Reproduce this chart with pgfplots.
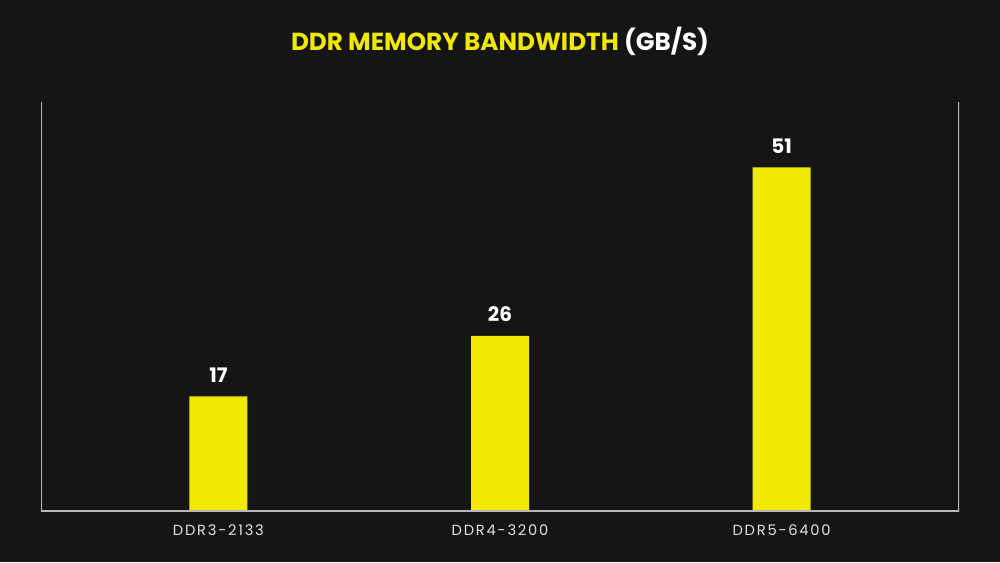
\documentclass[border=0pt]{standalone}
\usepackage{pgfplots}
\pgfplotsset{compat=1.18}
\usepackage{fontspec}
\setmainfont{Poppins}

\definecolor{bg}{RGB}{21,21,21}
\definecolor{ddryellow}{RGB}{240,232,0}
\definecolor{axisgray}{RGB}{185,185,185}
\definecolor{ticktext}{RGB}{225,225,225}

\pgfplotstableread{
x label value
0 DDR3-2133 17
1 DDR4-3200 26
2 DDR5-6400 51
}\bandwidth

\begin{document}
\begin{tikzpicture}[x=0.75pt,y=0.75pt]
% background, 1000 x 562 px
\fill[bg] (0,0) rectangle (1000,562);
\node[font=\fontsize{18.5}{20}\selectfont\bfseries] at (500,521)
  {\textcolor{ddryellow}{DDR MEMORY BANDWIDTH} \textcolor{white}{(GB/S)}};
\begin{axis}[
    at={(30.75pt,38.25pt)}, anchor=south west,
    scale only axis, width=688.5pt, height=306.75pt,
    ybar, bar width=43.5pt, bar shift=0pt,
    xmin=-0.63, xmax=2.63, ymin=0, ymax=60.7,
    axis line style={draw=none},
    xtick={0,1,2}, xticklabels={DDR3-2133,DDR4-3200,DDR5-6400},
    major tick length=0pt, ytick=\empty,
    xticklabel style={text=ticktext, yshift=-7pt,
      font=\fontsize{11}{13}\selectfont\addfontfeatures{LetterSpace=12}},
    /pgf/number format/assume math mode=true,
    nodes near coords,
    nodes near coords style={text=white, yshift=7pt,
      font=\fontsize{15}{17}\selectfont\bfseries},
  ]
  \addplot[fill=ddryellow, draw=none] table[x=x, y=value] {\bandwidth};
  \draw[axisgray, line width=1.1pt]
    (rel axis cs:0,1) -- (rel axis cs:0,0) -- (rel axis cs:1,0) -- (rel axis cs:1,1);
\end{axis}
\end{tikzpicture}
\end{document}
